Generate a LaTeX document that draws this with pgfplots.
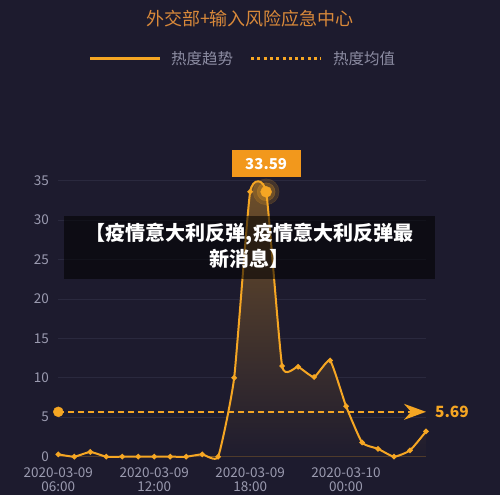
\documentclass[border=0pt]{standalone}
\usepackage{pgfplots}
\pgfplotsset{compat=1.18}
\usepackage{fontspec}
\setmainfont{Noto Sans CJK SC}
\usetikzlibrary{arrows.meta}
\definecolor{bg}{RGB}{29,27,46}
\definecolor{gridc}{RGB}{42,41,62}
\definecolor{ora}{RGB}{245,166,35}
\definecolor{boxc}{RGB}{242,152,28}
\definecolor{tit}{RGB}{217,137,58}
\definecolor{lab}{RGB}{155,155,176}
\definecolor{leg}{RGB}{140,140,162}
\pgfplotstableread{
x y
0 0.3
1 0
2 0.6
3 0
4 0
5 0
6 0
7 0
8 0
9 0.3
10 0
11 10
12 33.6
13 33.59
14 11.5
15 11.4
16 10.1
17 12.2
18 6.4
19 1.8
20 1.0
21 0
22 0.8
23 3.2
}\heat
\begin{document}
\begin{tikzpicture}
\fill[bg] (0pt,0pt) rectangle (500pt,495pt);
\path[use as bounding box] (0pt,0pt) rectangle (500pt,495pt);
\node[text=tit, font=\fontsize{18}{20}\selectfont] at (250pt,476pt) {外交部+输入风险应急中心};
\draw[ora, line width=3pt] (90pt,436pt) -- (160pt,436pt);
\node[anchor=west, text=leg, font=\fontsize{15.5}{18}\selectfont, inner sep=0pt] at (171pt,436pt) {热度趋势};
\draw[ora, line width=3pt, dash pattern=on 3pt off 3.3pt] (251pt,436pt) -- (321pt,436pt);
\node[anchor=west, text=leg, font=\fontsize{15.5}{18}\selectfont, inner sep=0pt] at (333pt,436pt) {热度均值};
\begin{axis}[
  at={(58.3pt,38.3pt)}, anchor=south west, scale only axis,
  width=367.7pt, height=276pt,
  xmin=0, xmax=23, ymin=0, ymax=35, clip=false,
  axis x line*=bottom, axis y line*=left,
  y axis line style={draw=none},
  x axis line style={draw=ora!65!bg, line width=1pt},
  major tick length=0pt,
  ytick={0,5,...,35}, ymajorgrids,
  major grid style={draw=gridc, line width=0.8pt},
  xtick={0,6,12,18},
  xticklabels={2020-03-09\\06:00,2020-03-09\\12:00,2020-03-09\\18:00,2020-03-10\\00:00},
  /pgf/number format/assume math mode=true,
  yticklabel style={text=lab, font=\fontsize{13.5}{16}\selectfont, xshift=-6pt},
  xticklabel style={text=lab, align=center, font=\fontsize{13.5}{14}\selectfont, yshift=-7pt},
]
\addplot[draw=none, top color=ora!38!bg, bottom color=bg, smooth, tension=0.28] table[x=x,y=y] {\heat} \closedcycle;
\addplot[ora, line width=2pt, smooth, tension=0.28, mark=*, mark size=1.6pt, mark options={fill=ora, draw=ora}] table[x=x,y=y] {\heat};
\addplot[only marks, mark=*, mark size=13pt, ora, opacity=0.18] coordinates {(13,33.59)};
\addplot[only marks, mark=*, mark size=9pt, ora, opacity=0.25] coordinates {(13,33.59)};
\addplot[only marks, mark=*, mark size=5.5pt, ora,
  nodes near coords={33.59},
  every node near coord/.style={anchor=south, yshift=14.5pt, fill=boxc, text=white, opacity=1,
    minimum width=69pt, minimum height=27pt, inner sep=0pt,
    font=\bfseries\fontsize{15}{18}\selectfont}] coordinates {(13,33.59)};
\addplot[ora, line width=1.5pt, dash pattern=on 6pt off 4pt,
  -{Stealth[length=22pt, width=16pt, inset=7pt]}] coordinates {(0,5.69) (23,5.69)}
  node[pos=1, anchor=west, text=ora, xshift=5pt, font=\bfseries\fontsize{15.5}{18}\selectfont] {5.69};
\addplot[only marks, mark=*, mark size=5pt, ora] coordinates {(0,5.69)};
\end{axis}
\fill[black, opacity=0.55] (64pt,216pt) rectangle (435pt,279pt);
\node[text=white, align=center, font=\bfseries\fontsize{20}{26}\selectfont] at (249.5pt,249pt) {【疫情意大利反弹,疫情意大利反弹最\\新消息】};
\end{tikzpicture}
\end{document}
